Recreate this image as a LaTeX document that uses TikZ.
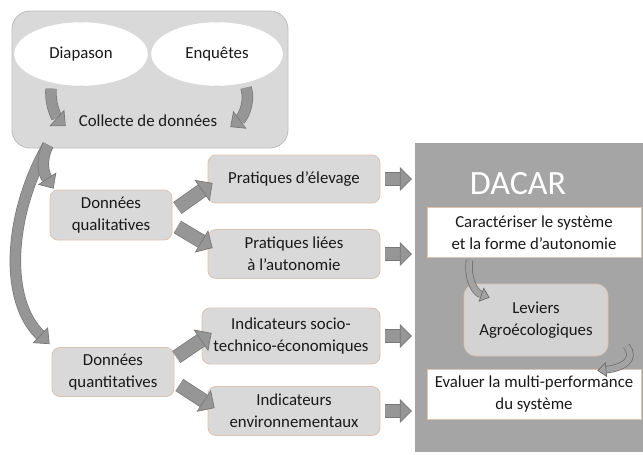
\documentclass[tikz,border=0pt]{standalone}
\usepackage{fontspec}
\setmainfont{Carlito}
\usetikzlibrary{arrows.meta,calc,shapes.geometric}

\definecolor{boxfill}{HTML}{D9D9D9}
\definecolor{boxedge}{HTML}{DCC3B2}
\definecolor{topedge}{HTML}{BDBDBD}
\definecolor{arrfill}{HTML}{969696}
\definecolor{arredge}{HTML}{777777}
\definecolor{panelgray}{HTML}{A5A5A5}
\definecolor{levfill}{HTML}{D3D3D3}
\definecolor{thinfill}{HTML}{A3A3A3}
\definecolor{thinedge}{HTML}{6A6A6A}

\tikzset{
  txt/.style={font=\fontsize{16.8}{22}\selectfont, align=center, text=black!90},
  databox/.style={txt, draw=boxedge, line width=0.8pt, fill=boxfill,
    rounded corners=8pt, inner sep=0pt},
  whitebox/.style={txt, draw=boxedge, line width=0.8pt, fill=white, inner sep=0pt,
    minimum width=214pt, minimum height=50pt},
  oval/.style={txt, ellipse, fill=white, draw=white, inner sep=0pt},
  % block arrow: shaft width, outline width, head width, head length
  blockarrow/.style n args={4}{line width=#1, draw=arrfill, line cap=butt,
    -{Triangle[width=#3, length=#4, fill=arrfill, color=arredge, line width=0.7pt]},
    preaction={draw=arredge, line width=#2, arrows=-, shorten >=#4}},
  thinarrow/.style n args={4}{line width=#1, draw=thinfill, line cap=butt,
    -{Triangle[width=#3, length=#4, fill=thinfill, color=thinedge, line width=0.7pt]},
    preaction={draw=thinedge, line width=#2, arrows=-, shorten >=#4}},
}

\begin{document}
\begin{tikzpicture}[x=1pt, y=-1pt]
  \useasboundingbox (0,0) rectangle (643,455);

  % ---- data sources ----
  \node[draw=topedge, line width=0.8pt, fill=boxfill, rounded corners=18pt,
        minimum width=276pt, minimum height=137pt, inner sep=0pt] (src) at (150,79.5) {};
  \node[oval, minimum width=133pt, minimum height=63pt] (dia) at (81,54) {Diapason};
  \node[oval, minimum width=131pt, minimum height=63pt] (enq) at (217,54) {Enquêtes};
  \node[txt, inner sep=1pt] (col) at (148,121) {Collecte de données};

  % ---- DACAR panel ----
  \node[fill=panelgray, minimum width=228pt, minimum height=309pt, inner sep=0pt]
        (panel) at (529,297.5) {};
  \node[font=\fontsize{34}{36}\selectfont, text=white] (dacar) at (518,184) {DACAR};
  \node[whitebox] (car) at (534,232.5) {Caractériser le système\\et la forme d’autonomie};
  \node[txt, draw=boxedge, line width=0.8pt, fill=levfill, rounded corners=12pt,
        minimum width=144pt, minimum height=72pt, inner sep=0pt] (lev) at (536,320)
        {Leviers\\Agroécologiques};
  \node[whitebox] (eva) at (534,394) {Evaluer la multi-performance\\du système};

  % ---- data types ----
  \node[databox, minimum width=122pt, minimum height=50pt] (qual) at (111,215)
        {Données\\qualitatives};
  \node[databox, minimum width=122pt, minimum height=49pt] (quant) at (113,372)
        {Données\\quantitatives};

  % ---- derived information ----
  \node[databox, minimum width=172pt, minimum height=48pt] (pe) at (294,179)
        {Pratiques d’élevage};
  \node[databox, minimum width=172pt, minimum height=49pt] (pa) at (294,254)
        {Pratiques liées\\à l’autonomie};
  \node[databox, minimum width=178pt, minimum height=56pt] (ise) at (291,336)
        {Indicateurs socio-\\technico-économiques};
  \node[databox, minimum width=172pt, minimum height=49pt] (ie) at (294,411)
        {Indicateurs\\environnementaux};

  % ---- collection arrows ----
  \draw[blockarrow={10pt}{11.4pt}{22pt}{12pt}]
    ($(dia.south)+(-30,3)$) .. controls (50,108) and (58,119) .. ($(col.west)+(-12,5)$);
  \draw[blockarrow={10pt}{11.4pt}{22pt}{12pt}]
    ($(enq.south)+(29,2)$) .. controls (251,105) and (241,119) .. ($(col.east)+(12,6)$);

  \coordinate (tail) at (48,145);
  \draw[blockarrow={10pt}{11.4pt}{22pt}{13pt}]
    (tail) .. controls (8,215) and (4,300) .. ($(quant.north west)+(-2,-3)$);
  \draw[blockarrow={10pt}{11.4pt}{22pt}{12pt}]
    (tail) .. controls (40,162) and (44,174) .. ($(qual.north west)+(4,-1)$);

  % ---- splitting arrows ----
  \draw[blockarrow={13pt}{14.4pt}{26pt}{13pt}]
    ($(qual.east)+(5,-7)$) -- ($(pe.west)+(5,4)$);
  \draw[blockarrow={13pt}{14.4pt}{26pt}{13pt}]
    ($(qual.east)+(5,12)$) -- ($(pa.west)+(5,-6)$);
  \draw[blockarrow={13pt}{14.4pt}{26pt}{13pt}]
    ($(quant.east)+(2,-15)$) -- ($(ise.west)+(10,-3)$);
  \draw[blockarrow={13pt}{14.4pt}{26pt}{13pt}]
    ($(quant.east)+(5,13)$) -- ($(ie.west)+(7,-3)$);

  % ---- arrows into DACAR ----
  \foreach \n in {pe,pa,ise,ie}
    \draw[blockarrow={12pt}{13.4pt}{24pt}{12pt}]
      ($(\n.east)+(5,0)$) -- ($(\n.east -| panel.west)+(-3,0)$);

  % ---- inside DACAR ----
  \draw[thinarrow={6pt}{7.4pt}{15pt}{9pt}]
    ($(car.south west)+(43,2)$) .. controls (467,278) and (474,292) .. ($(lev.north west)+(26,14)$);
  \draw[thinarrow={6pt}{7.4pt}{15pt}{9pt}]
    ($(lev.east)+(18,26)$) .. controls (637,360) and (622,368) .. ($(eva.north east)+(-44,2)$);
\end{tikzpicture}
\end{document}
